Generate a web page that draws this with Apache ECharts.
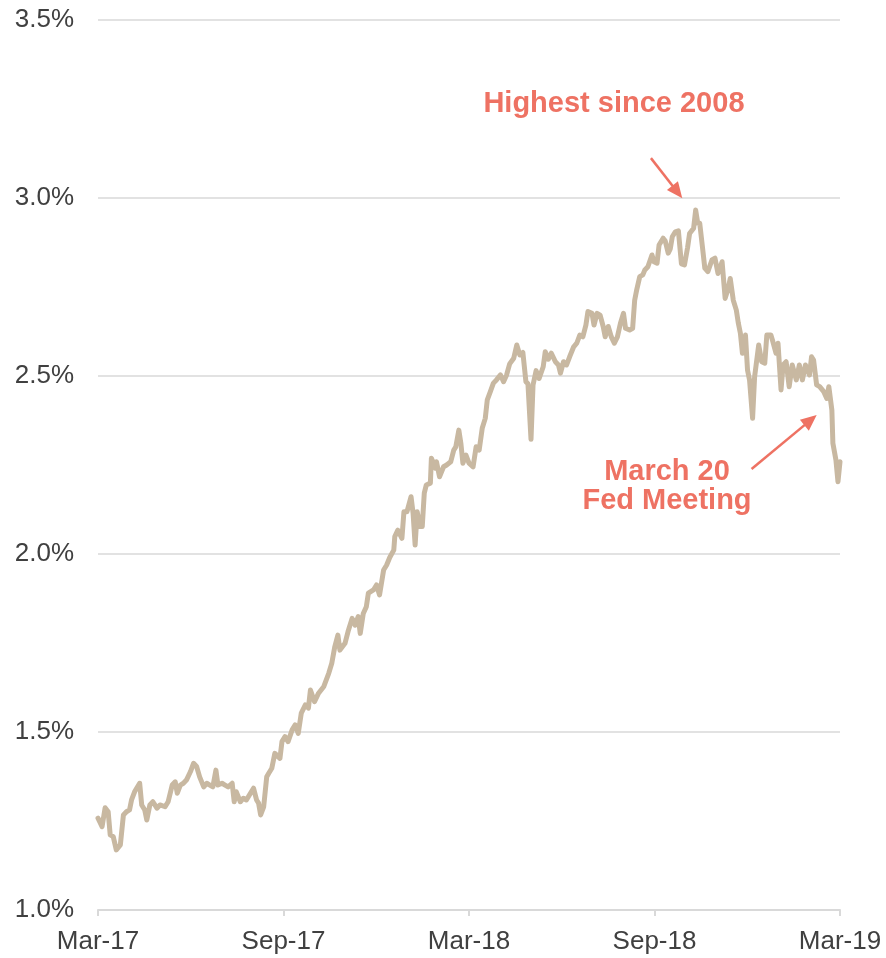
<!DOCTYPE html>
<html>
<head>
<meta charset="utf-8">
<script src="https://cdn.jsdelivr.net/npm/echarts@6/dist/echarts.min.js"></script>
<style>
  html, body { margin: 0; padding: 0; background: #ffffff; }
  #chart { width: 886px; height: 958px; }
</style>
</head>
<body>
<div id="chart"></div>
<script>
// 2-year Treasury yield, Mar-2017 to Mar-2019
// days: calendar days after 29 Mar 2017; yields: percent
const tickLabels = ['Mar-17', 'Sep-17', 'Mar-18', 'Sep-18', 'Mar-19'];

const days = [
  0, 4, 7, 10, 12, 15, 18, 22, 25, 28, 31, 33, 36, 41, 43, 46, 48, 51, 54, 58,
  61, 66, 69, 73, 76, 78, 81, 84, 87, 91, 94, 97, 100, 104, 107, 110, 113, 116, 118, 122,
  125, 128, 132, 134, 136, 140, 143, 146, 150, 153, 156, 158, 160, 163, 166, 168, 171, 174, 179, 181,
  184, 187, 191, 194, 197, 200, 204, 207, 209, 213, 217, 222, 227, 230, 233, 236, 238, 243, 246, 250,
  253, 256, 258, 261, 264, 266, 271, 274, 277, 281, 284, 287, 291, 292, 295, 299, 301, 304, 308, 310,
  312, 314, 317, 319, 321, 323, 327, 328, 332, 333, 336, 340, 343, 347, 350, 352, 355, 357, 359, 362,
  365, 369, 372, 375, 378, 381, 383, 386, 389, 392, 396, 399, 402, 405, 409, 412, 415, 418, 421, 423,
  426, 428, 431, 434, 438, 440, 443, 446, 450, 453, 455, 458, 461, 464, 468, 471, 474, 477, 480, 482,
  486, 488, 491, 494, 497, 499, 502, 505, 508, 511, 514, 517, 519, 523, 526, 528, 530, 533, 536, 538,
  541, 545, 547, 550, 552, 556, 558, 561, 563, 565, 568, 571, 574, 577, 580, 582, 586, 588, 590, 592,
  595, 597, 600, 604, 607, 610, 614, 617, 620, 622, 625, 628, 630, 632, 634, 637, 639, 641, 644, 646,
  650, 653, 656, 658, 662, 664, 667, 669, 672, 674, 677, 680, 683, 687, 690, 693, 696, 700, 702, 704,
  707, 710, 714, 717, 719, 722, 723, 726, 728, 730
];

const yields = [
  1.258, 1.234, 1.287, 1.276, 1.211, 1.206, 1.169, 1.183, 1.267, 1.276, 1.281, 1.309, 1.332, 1.356, 1.295, 1.281, 1.253, 1.295, 1.304, 1.286,
  1.295, 1.290, 1.304, 1.351, 1.360, 1.328, 1.351, 1.356, 1.365, 1.389, 1.412, 1.403, 1.374, 1.346, 1.356, 1.351, 1.346, 1.393, 1.351, 1.356,
  1.351, 1.346, 1.356, 1.304, 1.332, 1.304, 1.314, 1.309, 1.328, 1.342, 1.309, 1.300, 1.267, 1.290, 1.374, 1.384, 1.398, 1.440, 1.426, 1.473,
  1.487, 1.473, 1.506, 1.520, 1.496, 1.553, 1.576, 1.567, 1.618, 1.585, 1.609, 1.627, 1.665, 1.693, 1.740, 1.772, 1.730, 1.749, 1.782, 1.819,
  1.800, 1.824, 1.777, 1.833, 1.852, 1.890, 1.899, 1.913, 1.885, 1.955, 1.969, 1.990, 2.011, 2.049, 2.067, 2.044, 2.119, 2.119, 2.161, 2.114,
  2.025, 2.119, 2.077, 2.077, 2.171, 2.194, 2.199, 2.269, 2.241, 2.259, 2.217, 2.245, 2.250, 2.259, 2.292, 2.301, 2.348, 2.311, 2.255, 2.278,
  2.255, 2.245, 2.301, 2.292, 2.353, 2.381, 2.433, 2.456, 2.480, 2.489, 2.503, 2.484, 2.503, 2.534, 2.550, 2.587, 2.559, 2.566, 2.484, 2.478,
  2.322, 2.475, 2.515, 2.493, 2.526, 2.568, 2.547, 2.564, 2.540, 2.531, 2.508, 2.540, 2.531, 2.554, 2.582, 2.592, 2.615, 2.610, 2.643, 2.681,
  2.676, 2.643, 2.676, 2.671, 2.639, 2.610, 2.639, 2.610, 2.592, 2.610, 2.648, 2.676, 2.634, 2.629, 2.634, 2.713, 2.742, 2.779, 2.784, 2.798,
  2.807, 2.840, 2.821, 2.817, 2.868, 2.887, 2.880, 2.845, 2.857, 2.891, 2.905, 2.908, 2.815, 2.812, 2.860, 2.900, 2.915, 2.966, 2.930, 2.929,
  2.854, 2.803, 2.793, 2.826, 2.831, 2.788, 2.821, 2.718, 2.746, 2.774, 2.713, 2.685, 2.648, 2.620, 2.564, 2.615, 2.517, 2.489, 2.381, 2.498,
  2.587, 2.540, 2.536, 2.615, 2.615, 2.596, 2.564, 2.592, 2.461, 2.531, 2.540, 2.470, 2.531, 2.489, 2.531, 2.489, 2.531, 2.503, 2.554, 2.545,
  2.475, 2.470, 2.456, 2.437, 2.470, 2.404, 2.311, 2.264, 2.203, 2.259
];

const SPAN_DAYS = 730;
const LINE_COLOR = '#C8B8A1';
const NOTE_COLOR = '#EE7263';
const AXIS_GRAY = '#D9D9D9';
const TEXT_GRAY = '#404040';
const FONT = '"Liberation Sans", Arial, sans-serif';

// annotation anchors in [day, yield] space
const noteLabels = [
  { text: 'Highest since 2008', at: [507.6, 3.264] },
  { text: 'March 20\nFed Meeting', at: [559.8, 2.191] }
];
const arrows = [
  { from: [544.0, 3.112], to: [570.0, 3.017] },
  { from: [643.0, 2.239], to: [701.0, 2.376] }
];

const chart = echarts.init(document.getElementById('chart'), null, { renderer: 'canvas' });

const seriesData = days.map((d, i) => [d, yields[i]]);
const tickStep = SPAN_DAYS / (tickLabels.length - 1);

chart.setOption({
  animation: false,
  backgroundColor: '#ffffff',
  grid: { left: 98, right: 46, top: 20, bottom: 48, containLabel: false },
  xAxis: {
    type: 'value',
    min: 0,
    max: SPAN_DAYS,
    interval: tickStep,
    axisLine: { show: true, lineStyle: { color: AXIS_GRAY, width: 2 } },
    axisTick: { show: true, length: 6, lineStyle: { color: AXIS_GRAY, width: 2 } },
    splitLine: { show: false },
    axisLabel: {
      margin: 19,
      color: TEXT_GRAY,
      fontSize: 26,
      fontFamily: FONT,
      formatter: v => tickLabels[Math.round(v / tickStep)] || ''
    }
  },
  yAxis: {
    type: 'value',
    min: 1.0,
    max: 3.5,
    interval: 0.5,
    axisLine: { show: false },
    axisTick: { show: false },
    splitLine: { show: true, lineStyle: { color: AXIS_GRAY, width: 1.5 } },
    axisLabel: {
      margin: 24,
      color: TEXT_GRAY,
      fontSize: 26,
      fontFamily: FONT,
      formatter: v => v.toFixed(1) + '%'
    }
  },
  series: [{
    type: 'line',
    data: seriesData,
    showSymbol: false,
    symbol: 'none',
    smooth: false,
    lineStyle: { color: LINE_COLOR, width: 5, join: 'round', cap: 'round' },
    z: 3,
    markLine: {
      silent: true,
      symbol: ['none', 'triangle'],
      symbolSize: [14, 16],
      label: { show: false },
      lineStyle: { color: NOTE_COLOR, width: 2.5, type: 'solid' },
      data: arrows.map(a => [{ coord: a.from }, { coord: a.to }])
    }
  }]
});

// place annotation text at data positions
const graphics = noteLabels.map(n => {
  const p = chart.convertToPixel({ gridIndex: 0 }, n.at);
  return {
    type: 'text',
    x: p[0],
    y: p[1],
    style: {
      text: n.text,
      fill: NOTE_COLOR,
      font: 'bold 29px ' + FONT,
      align: 'center',
      verticalAlign: 'middle',
      lineHeight: 29
    },
    z: 10
  };
});
chart.setOption({ graphic: graphics });
</script>
</body>
</html>
